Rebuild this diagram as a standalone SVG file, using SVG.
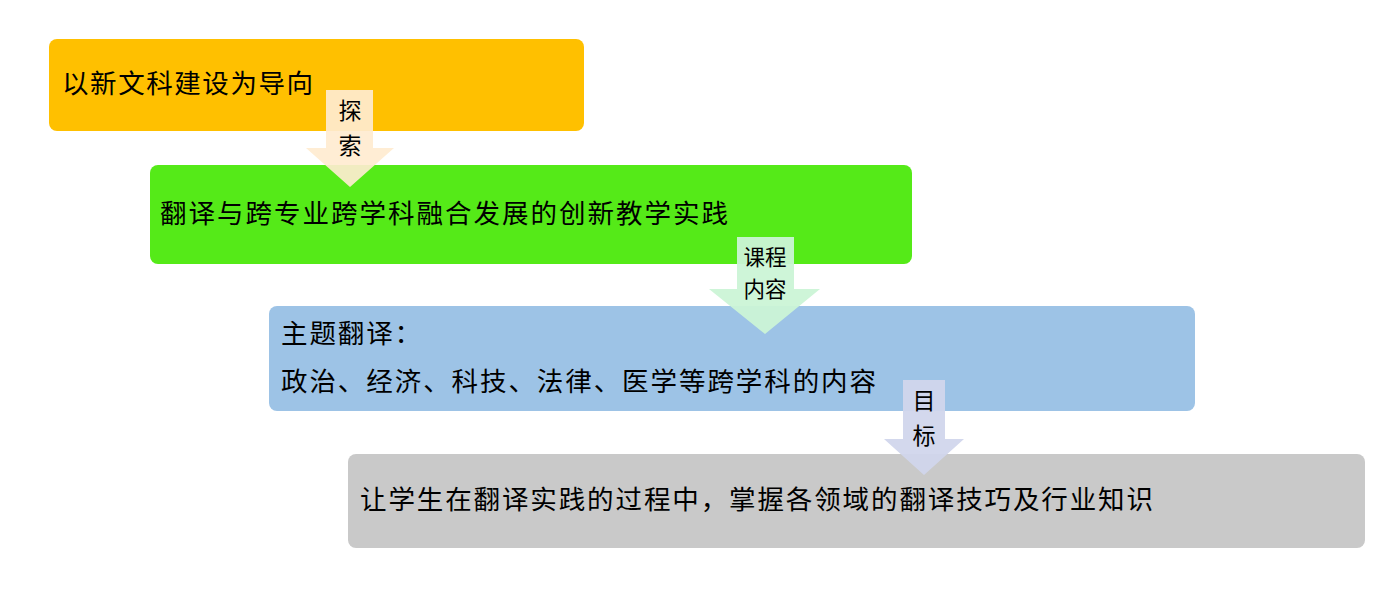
<svg xmlns="http://www.w3.org/2000/svg" width="1379" height="590" viewBox="0 0 1379 590">
<style>
.t{font-family:"Noto Sans CJK SC","Noto Sans",sans-serif;font-size:26.5px;fill:#000}
.a{font-family:"Noto Sans CJK SC","Noto Sans",sans-serif;font-size:23px;fill:#000;text-anchor:middle}
.b{font-family:"Noto Sans CJK SC","Noto Sans",sans-serif;font-size:21.5px;fill:#000;text-anchor:middle}
</style>
<rect width="1379" height="590" fill="#fff"/>
<g id="node1"><rect x="49" y="39" width="535" height="92" rx="8" fill="#FFC000"/>
<text class="t" x="62" y="93" textLength="251" lengthAdjust="spacing">以新文科建设为导向</text></g>
<g id="node2"><rect x="150" y="165" width="762" height="99" rx="8" fill="#55EA18"/>
<text class="t" x="160" y="223" textLength="568" lengthAdjust="spacing">翻译与跨专业跨学科融合发展的创新教学实践</text></g>
<g id="node3"><rect x="269" y="306" width="926" height="105" rx="8" fill="#9DC3E6"/>
<text class="t" x="281" y="343" textLength="140" lengthAdjust="spacing">主题翻译：</text>
<text class="t" x="281" y="391" textLength="595" lengthAdjust="spacing">政治、经济、科技、法律、医学等跨学科的内容</text></g>
<g id="node4"><rect x="348" y="454" width="1017" height="94" rx="8" fill="#C9C9C9"/>
<text class="t" x="360" y="509" textLength="793" lengthAdjust="spacing">让学生在翻译实践的过程中，掌握各领域的翻译技巧及行业知识</text></g>
<g id="connectors">
<g id="arrow1"><polygon points="326,90 373,90 373,148 394,148 350,187 306,148 326,148" fill="#FFEBD0" fill-opacity="0.92"/>
<text class="a" x="350" y="119">探</text><text class="a" x="350" y="154">索</text></g>
<g id="arrow2"><polygon points="737,237 794,237 794,289 820,289 765,334 709,289 737,289" fill="#CBF4D6" fill-opacity="0.95"/>
<text class="b" x="765" y="265">课程</text><text class="b" x="765" y="297">内容</text></g>
<g id="arrow3"><polygon points="903,380 945,380 945,439 964,439 924,475 884,439 903,439" fill="#D1D6EC" fill-opacity="0.95"/>
<text class="a" x="924" y="409">目</text><text class="a" x="924" y="444">标</text></g>
</g>
</svg>
